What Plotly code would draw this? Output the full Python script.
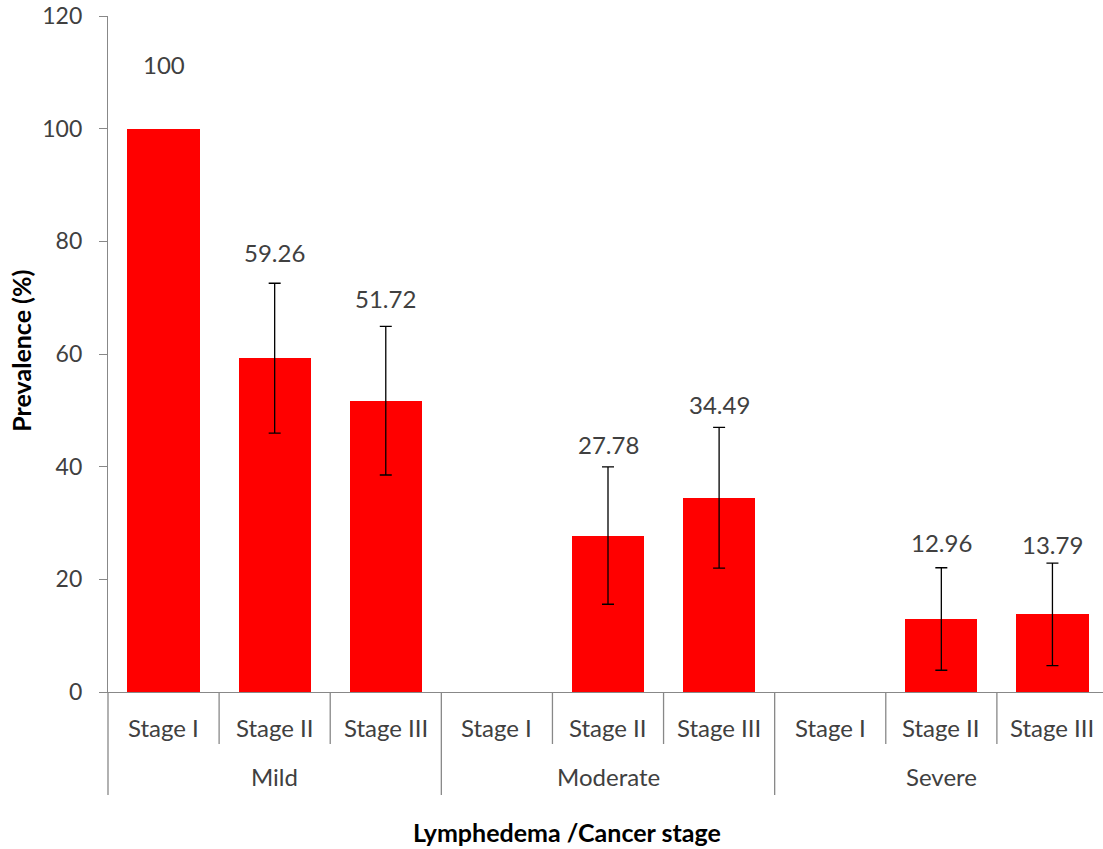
import plotly.graph_objects as go

# Lymphedema severity groups and cancer stages
groups = ["Mild", "Moderate", "Severe"]
stages = ["Stage I", "Stage II", "Stage III"]

# Prevalence (%) per group/stage, in group order
prevalence = [100, 59.26, 51.72, None, 27.78, 34.49, None, 12.96, 13.79]
# Half-width of the error bars (%)
error = [None, 13.3, 13.2, None, 12.2, 12.5, None, 9.1, 9.1]
# Data label texts
value_labels = ["100", "59.26", "51.72", "", "27.78", "34.49", "", "12.96", "13.79"]

y_ticks = [0, 20, 40, 60, 80, 100, 120]

n_groups = len(groups)
n_stages = len(stages)
n = n_groups * n_stages
xs = list(range(n))

text_color = "#404040"
axis_color = "#888888"
font_family = "Lato, 'Open Sans', sans-serif"

fig = go.Figure()
fig.add_trace(
    go.Bar(
        x=xs,
        y=prevalence,
        width=0.65,
        marker=dict(color="#FF0000", line=dict(width=0)),
        hoverinfo="skip",
        showlegend=False,
    )
)

# Error bars only where an interval exists
err_idx = [i for i, e in enumerate(error) if e is not None and prevalence[i] is not None]
fig.add_trace(
    go.Scatter(
        x=[xs[i] for i in err_idx],
        y=[prevalence[i] for i in err_idx],
        mode="markers",
        marker=dict(size=1, opacity=0),
        error_y=dict(
            type="data",
            array=[error[i] for i in err_idx],
            visible=True,
            color="#000000",
            thickness=1.3,
            width=6,
        ),
        hoverinfo="skip",
        showlegend=False,
    )
)

x_min, x_max = -0.5, n - 0.5 - 0.045
span = x_max - x_min


def to_paper(x):
    return (x - x_min) / span


annotations = []

# Data labels placed above the error bar tops (pixel shift per label)
label_shift = [64, 31, 28, 0, 22, 23, 0, 25, 19]
for i, (v, e, t) in enumerate(zip(prevalence, error, value_labels)):
    if v is None or not t:
        continue
    annotations.append(
        dict(
            x=i,
            y=v + (e or 0),
            xref="x",
            yref="y",
            text=t,
            showarrow=False,
            yanchor="middle",
            yshift=label_shift[i],
            font=dict(size=24, color=text_color, family=font_family),
        )
    )

# Stage labels (first level of the category axis)
for g in range(n_groups):
    for s, stage in enumerate(stages):
        annotations.append(
            dict(
                x=g * n_stages + s,
                y=-0.0518,
                xref="x",
                yref="paper",
                text=stage,
                showarrow=False,
                yanchor="middle",
                font=dict(size=24, color=text_color, family=font_family),
            )
        )
# Group labels (second level)
for g, name in enumerate(groups):
    annotations.append(
        dict(
            x=g * n_stages + (n_stages - 1) / 2,
            y=-0.1257,
            xref="x",
            yref="paper",
            text=name,
            showarrow=False,
            yanchor="middle",
            font=dict(size=24, color=text_color, family=font_family),
        )
    )

# Axis titles
annotations.append(
    dict(
        x=0.4613,
        y=-0.207,
        xref="paper",
        yref="paper",
        text="<b>Lymphedema /Cancer stage</b>",
        showarrow=False,
        yanchor="middle",
        font=dict(size=25, color="#000000", family=font_family),
    )
)
annotations.append(
    dict(
        x=-0.0874,
        y=0.505,
        xref="paper",
        yref="paper",
        text="<b>Prevalence (%)</b>",
        textangle=-90,
        showarrow=False,
        xanchor="center",
        yanchor="middle",
        font=dict(size=25, color="#000000", family=font_family),
    )
)

# Category dividers below the x axis
shapes = []
short_end = -0.0769
long_end = -0.1524
for k in range(n + 1):
    xb = k - 0.5
    if xb > x_max:
        continue
    end = long_end if k % n_stages == 0 else short_end
    shapes.append(
        dict(
            type="line",
            xref="paper",
            yref="paper",
            x0=to_paper(xb),
            x1=to_paper(xb),
            y0=0,
            y1=end,
            line=dict(color=axis_color, width=1.3),
        )
    )

fig.update_layout(
    width=1103,
    height=849,
    margin=dict(l=108, r=0, t=16, b=157),
    paper_bgcolor="white",
    plot_bgcolor="white",
    bargap=0,
    annotations=annotations,
    shapes=shapes,
    xaxis=dict(
        range=[x_min, x_max],
        showticklabels=False,
        showgrid=False,
        zeroline=False,
        showline=True,
        linecolor=axis_color,
        linewidth=1.3,
        ticks="",
        fixedrange=True,
    ),
    yaxis=dict(
        range=[0, 120],
        tickvals=y_ticks,
        ticktext=[str(v) for v in y_ticks],
        showgrid=False,
        zeroline=False,
        showline=True,
        linecolor=axis_color,
        linewidth=1.3,
        ticks="outside",
        ticklen=8,
        tickcolor=axis_color,
        tickwidth=1.3,
        ticklabelstandoff=12,
        tickfont=dict(size=23, color=text_color, family=font_family),
        fixedrange=True,
    ),
)

fig.write_html("out.html", config={"displayModeBar": False})
